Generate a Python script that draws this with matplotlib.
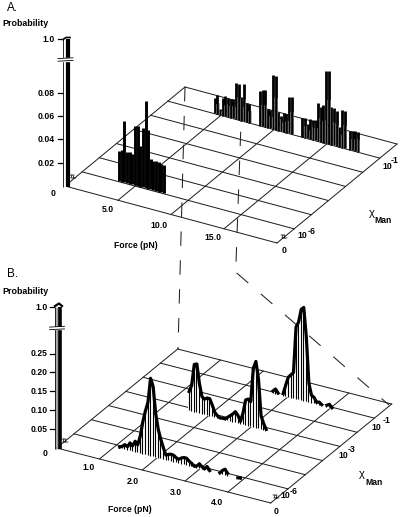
import numpy as np
import matplotlib
matplotlib.use("Agg")
import matplotlib.pyplot as plt

plt.rcParams['font.family'] = ['Liberation Sans', 'DejaVu Sans']
plt.rcParams['lines.scale_dashes'] = False

# panel A (force in pN, step 0.25)
a_front_start = 3.4
a_front_prob = [.026, .027, .053, .027, .027, .026, .051, .051, .035, .051, .075, .05,
                .026, .025, .026, .025, .024, .024]
a_back_start = 4.4
a_back_prob = [.013, .016, .005, .015, .017, .016, .016, .017, .031, .031, .02, .032, .016, .016,
               0, 0, 0, .03, .031, .032, .016, .016, .046, .046, .016, .013, .016, .016, .031, .032,
               0, 0, 0, .016, .017, .012, .017, .017, .018, .033, .03, .032, .062, .063, .032, .032,
               .03, .017, .032, .032, 0, .016, .017, .017, .017]

# panel B (force in pN, step 0.06)
b_front_start = 1.11
b_front_prob = [.002, .006, .012, .008, .020, .014, .028, .020, .045, .085, .115, .14, .205, .185,
                .115, .075, .05, .03, .012, .016, .018, .017, .012, .010, .015, .018, .018, .012,
                .008, .002, .004, .012, .006, .002, .010, .001, 0, 0, 0, .002, .010, .015, .006,
                0, 0, 0, .001, .002]
b_mid_start = 1.53
b_mid_prob = [.05, .068, .125, .128, .078, .045, .04, .045, .045, .03, .012, .005, .001, .002, .002,
              .008, .014, .02, .028, .02, .006, .03, .066, .07, .065, .155, .175, .13, .035, .016,
              .002]
b_back_start = 2.64
b_back_prob = [.005, .012, .003, 0, .005, .03, .052, .06, .068, .19, .205, .24, .247, .17, .05,
               .02, .016, .005, .007, .002, 0, .004, .008, .001]

a_ticks = [0.02, 0.04, 0.06, 0.08, 1.0]
a_tick_labels = ['0.02', '0.04', '0.06', '0.08', '1.0']
b_ticks = [0.05, 0.10, 0.15, 0.20, 0.25, 1.0]
b_tick_labels = ['0.05', '0.10', '0.15', '0.20', '0.25', '1.0']

A = {'origin': (65, 186), 'fvec': (212, 57), 'cvec': (120, -99), 'fmax': 20.0, 'ncell': 4,
     'per_prob': 1165.0, 'top': 147.0}
B = {'origin': (56.7, 448), 'fvec': (214, 55), 'cvec': (121, -99), 'fmax': 5.0, 'ncell': 5,
     'per_prob': 378.0, 'top': 141.0}


def project(p, force, chi, prob=0.0):
    force = np.asarray(force, dtype=float)
    prob = np.asarray(prob, dtype=float)
    f = force / p['fmax']
    x = p['origin'][0] + f * p['fvec'][0] + chi * p['cvec'][0]
    y = p['origin'][1] + f * p['fvec'][1] + chi * p['cvec'][1]
    h = np.where(prob > 0.5, p['top'], prob * p['per_prob'])
    return x, y - h


def draw_floor(ax, p):
    for i in range(p['ncell'] + 1):
        f = p['fmax'] * i / p['ncell']
        x0, y0 = project(p, f, 0)
        x1, y1 = project(p, f, 1)
        ax.plot([x0, x1], [y0, y1], color='#1a1a1a', lw=0.7, zorder=2)
    for i in range(8):
        x, y = project(p, [0, p['fmax']], i / 7)
        ax.plot(x, y, color='#1a1a1a', lw=0.7, zorder=2)


def spikes(ax, p, start, step, prob, chi, lw=2.0, grey=True):
    force = start + step * np.arange(len(prob))
    prob = np.array(prob)
    xb, yb = project(p, force, chi)
    xt, yt = project(p, force, chi, prob)
    for i in range(len(prob)):
        if prob[i] > 0:
            ax.plot([xb[i], xt[i]], [yb[i], yt[i]], color='k', lw=lw, solid_capstyle='butt', zorder=4)
    # pale gaps in the lower part of the bars
    for i in range(len(prob)):
        if grey and prob[i] > 0:
            ymid = yb[i] + (yt[i] - yb[i]) * 0.6
            ax.plot([xb[i] + 1.3, xb[i] + 1.3], [yb[i], ymid], color='#8c8c8c', lw=0.45, zorder=5)


def ridge(ax, p, start, step, prob, chi):
    force = start + step * np.arange(len(prob))
    prob = np.array(prob)
    xb, yb = project(p, force, chi)
    xt, yt = project(p, force, chi, prob)
    ax.fill(np.r_[xt, xb[::-1]], np.r_[yt, yb[::-1]], color='white', zorder=3)
    ax.vlines(xb, yt, yb, color='k', lw=0.8, zorder=4)
    # thick outline, broken wherever the value is zero
    on = prob > 0
    i = 0
    while i < len(prob):
        if on[i]:
            j = i
            while j + 1 < len(prob) and on[j + 1]:
                j += 1
            ax.plot(xt[i:j + 1] + 0.4, yt[i:j + 1], color='k', lw=2.3, solid_joinstyle='round', zorder=5)
            i = j + 1
        else:
            i += 1


def column(ax, p, colours, widths, dx):
    x0, y0 = project(p, 0, 0)
    x1, y1 = project(p, 0, 0, 1.0)
    pos = float(x0) + dx
    for c, w in zip(colours, widths):
        ax.plot([pos + w / 2, pos + w / 2], [float(y0) + 1, float(y1)], color=c, lw=w * 0.72,
                solid_capstyle='butt', zorder=6)
        pos += w


def yaxis(ax, p, ticks, labels, x_tick, x_label, y_break, zero_xy):
    for t, lab in zip(ticks, labels):
        _, y = project(p, 0, 0, t)
        y = float(y)
        ax.plot([x_tick, x_tick + 4], [y, y], color='k', lw=0.9, zorder=6)
        ax.text(x_label, y + 0.3, lab, ha='right', va='center', fontsize=6.2, fontweight='bold')
    ax.text(zero_xy[0], zero_xy[1], '0', ha='center', va='center', fontsize=6.2, fontweight='bold')
    # axis break on the column
    ax.fill_between([x_tick + 1, x_tick + 15], y_break - 1.2, y_break + 1.2, color='white', zorder=7)
    for off in (-1.3, 1.3):
        ax.plot([x_tick, x_tick + 15], [y_break + off + 0.4, y_break + off - 0.4], color='k', lw=0.6, zorder=8)


def squiggle(ax, x, y):
    for off in (0, 2):
        ax.plot([x - 2 + off, x + off, x - 1 + off, x + 2 + off], [y - 2, y - 2, y + 1, y + 1],
                color='k', lw=0.5, zorder=7)


fig = plt.figure(figsize=(4.0, 5.17), dpi=100)
ax = fig.add_axes([0, 0, 1, 1])
ax.set_xlim(0, 400)
ax.set_ylim(517, 0)
ax.axis('off')

# ---- panel A ----
draw_floor(ax, A)
spikes(ax, A, a_back_start, 0.25, a_back_prob, 0.86, lw=2.0)
spikes(ax, A, a_front_start, 0.25, a_front_prob, 0.15, lw=2.1, grey=False)
column(ax, A, ['k', 'white', 'k'], [0.9, 2.2, 4.2], -2.2)
yaxis(ax, A, a_ticks, a_tick_labels, 58, 55, 59.5, (52.7, 194))
ax.plot([63, 66, 70], [39.5, 37.5, 37.5], color='k', lw=1.2, zorder=7)
squiggle(ax, 72, 177)
squiggle(ax, 283, 237)
ax.text(7, 8, 'A.', fontsize=8.5, va='center')
ax.text(2, 24, 'Probability', fontsize=6.4, fontweight='bold', va='center')
for lab, x, y in [('5.0', 108, 210), ('10.0', 159, 225), ('15.0', 213, 237)]:
    ax.text(x, y, lab, fontsize=6.2, fontweight='bold', ha='center', va='center')
ax.text(135.7, 245, 'Force (pN)', fontsize=6.2, fontweight='bold', ha='center', va='center')
ax.text(372, 213, '\u03c7', fontsize=8, ha='center', va='center')
ax.text(383, 220.7, 'Man', fontsize=6.2, fontweight='bold', ha='center', va='center')
ax.text(302, 235, '10', fontsize=6.2, fontweight='bold', ha='center', va='center')
ax.text(312, 231, '-6', fontsize=6.2, fontweight='bold', ha='center', va='center')
ax.text(387, 166.7, '10', fontsize=6.2, fontweight='bold', ha='center', va='center')
ax.text(395, 160.7, '-1', fontsize=6.2, fontweight='bold', ha='center', va='center')
ax.text(284, 250.7, '0', fontsize=6.2, fontweight='bold', ha='center', va='center')

# ---- panel B ----
draw_floor(ax, B)
ridge(ax, B, b_back_start, 0.06, b_back_prob, 0.85)
ridge(ax, B, b_mid_start, 0.06, b_mid_prob, 0.55)
ridge(ax, B, b_front_start, 0.06, b_front_prob, 0.125)
column(ax, B, ['#222222', '#9a9a9a', 'k'], [1.0, 2.6, 3.6], -2.0)
yaxis(ax, B, b_ticks, b_tick_labels, 49.5, 47.5, 328, (45, 454))
ax.plot([55, 59, 62], [306, 303.5, 306], color='k', lw=1.6, zorder=7)
squiggle(ax, 64, 441)
squiggle(ax, 275, 497)
ax.text(7, 274, 'B.', fontsize=8.5, va='center')
ax.text(2, 291, 'Probability', fontsize=6.4, fontweight='bold', va='center')
for lab, x, y in [('1.0', 89, 468), ('2.0', 133, 481.7), ('3.0', 175.7, 492.3), ('4.0', 217, 502.7)]:
    ax.text(x, y, lab, fontsize=6.2, fontweight='bold', ha='center', va='center')
ax.text(130, 509, 'Force (pN)', fontsize=6.2, fontweight='bold', ha='center', va='center')
ax.text(361.7, 474, '\u03c7', fontsize=8, ha='center', va='center')
ax.text(374, 482.3, 'Man', fontsize=6.2, fontweight='bold', ha='center', va='center')
for x, y, up, ex, ey in [(376.7, 427.7, '-1', 386.7, 420.7), (343, 455, '-3', 352, 449), (285, 495.7, '-6', 294, 491)]:
    ax.text(x, y, '10', fontsize=6.2, fontweight='bold', ha='center', va='center')
    ax.text(ex, ey, up, fontsize=6.2, fontweight='bold', ha='center', va='center')
ax.text(276, 511.7, '0', fontsize=6.2, fontweight='bold', ha='center', va='center')

# dashed guides from panel A to panel B
dash = (0, (10.4, 10.4))
ax.plot([185, 178], [87, 349], color='#222222', lw=0.75, linestyle=dash, zorder=3)
ax.plot([240.7, 236], [131.7, 263], color='#222222', lw=0.75, linestyle=dash, zorder=3)
ax.plot([236.7, 389], [273, 405], color='#222222', lw=0.75, linestyle=(0, (11, 12)), zorder=3)

fig.savefig('out.png', dpi=100)
